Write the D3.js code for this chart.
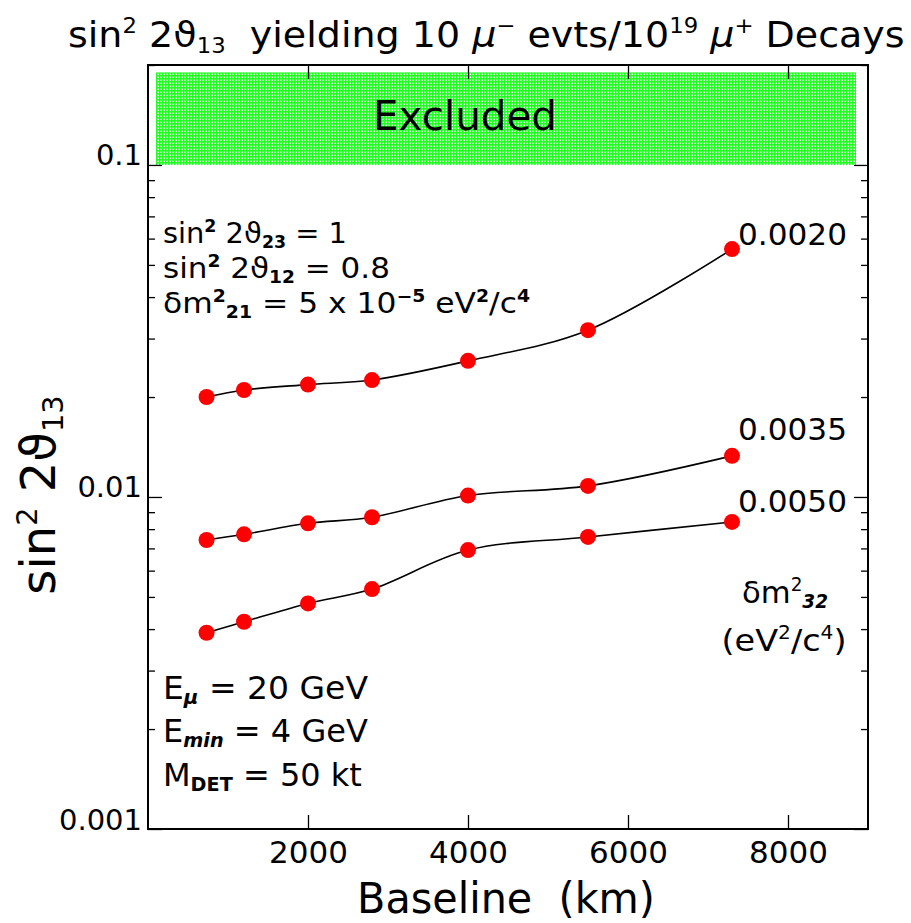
<!DOCTYPE html>
<html>
<head>
<meta charset="utf-8">
<script src="https://cdn.jsdelivr.net/npm/d3@7"></script>
<style>
  html, body { margin: 0; padding: 0; background: #fff; }
  svg text { font-family: "DejaVu Sans", "Liberation Sans", sans-serif; white-space: pre; fill: #000; }
</style>
</head>
<body>
<svg id="chart" width="911" height="923"></svg>
<script>
// ---------------- data ----------------
const baselines = [732, 1200, 2000, 2800, 4000, 5500, 7300];          // km
const series0020 = [0.0200, 0.0210, 0.0218, 0.0225, 0.0257, 0.0318, 0.0558];
const series0035 = [0.00742, 0.00772, 0.00833, 0.00869, 0.0101, 0.0108, 0.0133];
const series0050 = [0.00390, 0.00421, 0.00478, 0.00528, 0.00692, 0.00758, 0.00841];
const seriesLabels = ["0.0020", "0.0035", "0.0050"];
const xTickValues = [2000, 4000, 6000, 8000];
const yMajorTicks = [0.001, 0.01, 0.1];
const yMajorLabels = ["0.001", "0.01", "0.1"];
const excludedX = [100, 8850];
const excludedY = [0.1, 0.19];

// ---------------- layout ----------------
const svg = d3.select("#chart");
const L = 148, R = 868, T = 65, B = 829;
const x = d3.scaleLinear().domain([0, 9000]).range([L, R]);
const y = d3.scaleLog().domain([0.001, 0.2]).range([B, T]);

function rich(sel, segs, fs) {
  let shift = 0;
  segs.forEach(s => {
    const txt = s[0], kind = s[1], bold = s[2], ital = s[3];
    const target = kind === "sup" ? -0.38 * fs : kind === "sub" ? 0.17 * fs : 0;
    const ts = sel.append("tspan").text(txt).attr("dy", target - shift);
    if (kind) ts.attr("font-size", fs * 0.6);
    if (bold) ts.attr("font-weight", "bold");
    if (ital) ts.attr("font-style", "italic");
    shift = target;
  });
  return sel;
}
function label(xp, yp, segs, fs, anchor, width) {
  const t = svg.append("text").attr("x", xp).attr("y", yp)
    .attr("font-size", fs).attr("text-anchor", anchor || "start");
  rich(t, segs, fs);
  if (width) {
    const w = t.node().getComputedTextLength();
    const k = width / w;
    t.attr("transform", `translate(${xp},0) scale(${k},1) translate(${-xp},0)`);
  }
  return t;
}

// pattern for excluded region
const defs = svg.append("defs");
const pat = defs.append("pattern").attr("id", "hatch").attr("patternUnits", "userSpaceOnUse")
  .attr("width", 3).attr("height", 3);
pat.append("rect").attr("width", 3).attr("height", 3).attr("fill", "#ffffff");
pat.append("rect").attr("width", 1.6).attr("height", 3).attr("fill", "#22ff22");
pat.append("rect").attr("width", 3).attr("height", 1.6).attr("fill", "#22ff22");

svg.append("rect")
  .attr("x", x(excludedX[0])).attr("y", y(excludedY[1]))
  .attr("width", x(excludedX[1]) - x(excludedX[0]))
  .attr("height", y(excludedY[0]) - y(excludedY[1]))
  .attr("fill", "url(#hatch)");

// ---------------- axes ----------------
const minorTicks = y.ticks().filter(v => !yMajorTicks.some(m => Math.abs(v - m) / m < 1e-6));
function styleAxis(g) {
  g.select(".domain").remove();
  g.selectAll(".tick line").attr("stroke", "#000").attr("stroke-width", 1.3);
  g.selectAll(".tick text").attr("font-family", "DejaVu Sans").attr("fill", "#000");
}
// left
svg.append("g").attr("transform", `translate(${L},0)`)
  .call(d3.axisLeft(y).tickValues(yMajorTicks).tickSize(-14).tickPadding(6)
    .tickFormat((d, i) => yMajorLabels[i]))
  .call(styleAxis)
  .call(g => g.selectAll(".tick text").attr("font-size", 29).attr("dy", "0"));
svg.append("g").attr("transform", `translate(${L},0)`)
  .call(d3.axisLeft(y).tickValues(minorTicks).tickSize(-7).tickFormat(""))
  .call(styleAxis);
// right
svg.append("g").attr("transform", `translate(${R},0)`)
  .call(d3.axisRight(y).tickValues(yMajorTicks).tickSize(-14).tickFormat(""))
  .call(styleAxis);
svg.append("g").attr("transform", `translate(${R},0)`)
  .call(d3.axisRight(y).tickValues(minorTicks).tickSize(-7).tickFormat(""))
  .call(styleAxis);
// bottom
svg.append("g").attr("transform", `translate(0,${B})`)
  .call(d3.axisBottom(x).tickValues(xTickValues).tickSize(-14).tickPadding(12)
    .tickFormat(d3.format("d")))
  .call(styleAxis)
  .call(g => g.selectAll(".tick text").attr("font-size", 31).attr("dy", "0.71em"));
// top
svg.append("g").attr("transform", `translate(0,${T})`)
  .call(d3.axisTop(x).tickValues(xTickValues).tickSize(-14).tickFormat(""))
  .call(styleAxis);

// frame
svg.append("rect").attr("x", L).attr("y", T).attr("width", R - L).attr("height", B - T)
  .attr("fill", "none").attr("stroke", "#000").attr("stroke-width", 2);

// ---------------- series ----------------
const allSeries = [series0020, series0035, series0050];
const line = d3.line().x((d, i) => x(baselines[i])).y(d => y(d)).curve(d3.curveCatmullRom.alpha(0.5));
allSeries.forEach(s => {
  svg.append("path").attr("d", line(s)).attr("fill", "none")
    .attr("stroke", "#000").attr("stroke-width", 1.6);
});
allSeries.forEach(s => {
  svg.append("g").selectAll("circle").data(s).join("circle")
    .attr("cx", (d, i) => x(baselines[i])).attr("cy", d => y(d)).attr("r", 8)
    .attr("fill", "#ff0000");
});

// series labels
const seriesLabelPos = [[738, 245], [738, 440], [738, 512]];
seriesLabels.forEach((t, i) => label(seriesLabelPos[i][0], seriesLabelPos[i][1], [[t]], 31, "start", 109));

// ---------------- text ----------------
label(68, 47, [["sin"], ["2", "sup"], [" 2ϑ"], ["13", "sub"], ["  yielding 10 "], ["μ", null, false, true], ["−", "sup"],
  [" evts/10"], ["19", "sup"], [" "], ["μ", null, false, true], ["+", "sup"], [" Decays"]], 36, "start", 837);

label(465, 130, [["Excluded"]], 40, "middle", 184);

label(163, 243, [["sin"], ["2", "sup", true], [" 2ϑ"], ["23", "sub", true], [" = 1"]], 28, "start", 184);
label(163, 278, [["sin"], ["2", "sup", true], [" 2ϑ"], ["12", "sub", true], [" = 0.8"]], 28, "start", 227);
label(163, 313, [["δm"], ["2", "sup", true], ["21", "sub", true], [" = 5 x 10"], ["−5", "sup", true],
  [" eV"], ["2", "sup", true], ["/c"], ["4", "sup", true]], 28, "start", 367);

label(163, 699, [["E"], ["μ", "sub", true, true], [" = 20 GeV"]], 32, "start", 205);
label(163, 742, [["E"], ["min", "sub", true, true], [" = 4 GeV"]], 32, "start", 205);
label(163, 786, [["M"], ["DET", "sub", true], [" = 50 kt"]], 32, "start", 199);

label(785, 603, [["δm"], ["2", "sup"], ["32", "sub", true, true]], 31, "middle", 86);
label(784, 651, [["(eV"], ["2", "sup"], ["/c"], ["4", "sup"], [")"]], 31, "middle", 125);

// axis titles
label(506, 913, [["Baseline  (km)"]], 42, "middle", 298);
const yt = svg.append("text").attr("font-size", 48).attr("text-anchor", "middle")
  .attr("transform", "translate(55,495) rotate(-90)");
rich(yt, [["sin"], ["2", "sup"], [" 2ϑ"], ["13", "sub"]], 48);
</script>
</body>
</html>
